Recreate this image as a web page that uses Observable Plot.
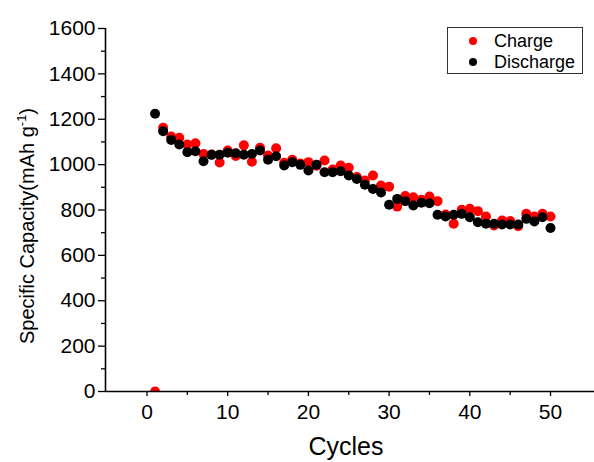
<!DOCTYPE html>
<html>
<head>
<meta charset="utf-8">
<script src="https://cdn.jsdelivr.net/npm/d3@7"></script>
<script src="https://cdn.jsdelivr.net/npm/@observablehq/plot@0.6"></script>
<style>
  html, body { margin: 0; padding: 0; background: #fff; }
  #chart svg { display: block; }
</style>
</head>
<body>
<div id="chart"></div>
<script>
const cycles = [1,2,3,4,5,6,7,8,9,10,11,12,13,14,15,16,17,18,19,20,21,22,23,24,25,26,27,28,29,30,31,32,33,34,35,36,37,38,39,40,41,42,43,44,45,46,47,48,49,50];
const charge = [0,1162,1124,1118,1089,1094,1047,1045,1009,1062,1038,1085,1013,1074,1040,1072,1008,1021,1005,1011,995,1018,978,996,986,945,930,952,908,903,815,862,856,845,859,839,780,739,801,805,795,771,732,754,751,728,783,771,783,771];
const discharge = [1224,1147,1109,1089,1055,1059,1015,1043,1044,1052,1050,1044,1047,1062,1022,1037,996,1011,999,974,1000,966,966,971,952,937,911,893,877,823,849,839,820,832,830,779,771,779,783,768,746,739,739,736,736,736,761,749,768,721];
const xTicks = [0,10,20,30,40,50];
const xMinor = [5,15,25,35,45];
const yTicks = [0,200,400,600,800,1000,1200,1400,1600];
const yMinor = [100,300,500,700,900,1100,1300,1500];
const seriesNames = ["Charge", "Discharge"];
const seriesColors = ["#ff0000", "#000000"];

const chargeData = cycles.map((c, i) => ({cycle: c, value: charge[i]}));
const dischargeData = cycles.map((c, i) => ({cycle: c, value: discharge[i]}));

const FONT = "'Liberation Sans', Arial, Helvetica, sans-serif";
const xDomain = [-5.143, 55.45];
const yDomain = [0, 1600];

const W = 594, H = 462, ML = 105, MR = 0, MT = 28, MB = 71;

const plot = Plot.plot({
  width: W,
  height: H,
  marginLeft: ML,
  marginRight: MR,
  marginTop: MT,
  marginBottom: MB,
  style: {fontFamily: FONT, fontSize: "21px", color: "#000", background: "#fff", overflow: "visible"},
  x: {domain: xDomain, label: null},
  y: {domain: yDomain, label: null},
  marks: [
    Plot.dot(chargeData, {x: "cycle", y: "value", r: 5, fill: seriesColors[0], stroke: "none", clip: true, className: "series-dots"}),
    Plot.dot(dischargeData, {x: "cycle", y: "value", r: 5, fill: seriesColors[1], stroke: "none", clip: true, className: "series-dots"}),
    Plot.axisY({ticks: yTicks, tickSize: 7, tickPadding: 3, tickFormat: d => String(d), strokeWidth: 1.3, fontSize: 21, label: null}),
    Plot.axisY({ticks: yMinor, tickSize: 4, tickFormat: () => "", strokeWidth: 1.3, label: null}),
    Plot.axisX({ticks: xTicks, tickSize: 5, tickPadding: 8, tickFormat: d => String(d), strokeWidth: 1.3, fontSize: 21, label: null}),
    Plot.axisX({ticks: xMinor, tickSize: 4, tickFormat: () => "", strokeWidth: 1.3, label: null}),
    Plot.ruleY([0], {stroke: "#000", strokeWidth: 1.6}),
    Plot.ruleX([xDomain[0]], {stroke: "#000", strokeWidth: 1.6})
  ]
});

const svg = d3.select(plot);

// clip every data dot to the plotting frame (the cycle-1 charge point sits on the x axis)
const NS = "http://www.w3.org/2000/svg";
const defs = document.createElementNS(NS, "defs");
const cp = document.createElementNS(NS, "clipPath");
cp.setAttribute("id", "frameClipDots");
cp.setAttribute("clipPathUnits", "userSpaceOnUse");
const cr = document.createElementNS(NS, "rect");
cr.setAttribute("x", ML); cr.setAttribute("y", MT);
cr.setAttribute("width", W - ML - MR); cr.setAttribute("height", H - MT - MB);
cp.appendChild(cr); defs.appendChild(cp);
plot.insertBefore(defs, plot.firstChild);
plot.querySelectorAll("circle").forEach(c => {
  c.setAttribute("clip-path", "url(#frameClipDots)");
});

// X axis title
svg.append("text")
  .attr("x", 346).attr("y", 455)
  .attr("text-anchor", "middle")
  .attr("font-family", FONT).attr("font-size", 25)
  .attr("fill", "#000")
  .text("Cycles");

// Y axis title with superscript
const yt = svg.append("text")
  .attr("transform", "translate(34,226) rotate(-90)")
  .attr("text-anchor", "middle")
  .attr("font-family", FONT).attr("font-size", 20)
  .attr("fill", "#000");
yt.append("tspan").text("Specific Capacity(mAh g");
yt.append("tspan").attr("font-size", 13).attr("dy", -8).text("-1");
yt.append("tspan").attr("dy", 8).text(")");

// Legend
const lg = svg.append("g").attr("font-family", FONT).attr("font-size", 18).attr("text-anchor", "start");
lg.append("rect").attr("x", 447.5).attr("y", 27.5).attr("width", 135).attr("height", 46)
  .attr("fill", "#fff").attr("stroke", "#333").attr("stroke-width", 1);
seriesNames.forEach((name, i) => {
  const cy = 41 + i * 21;
  lg.append("circle").attr("cx", 473).attr("cy", cy).attr("r", 4).attr("fill", seriesColors[i]);
  lg.append("text").attr("x", 494).attr("y", cy + 6).attr("text-anchor", "start").attr("fill", "#000").text(name);
});

document.getElementById("chart").appendChild(plot);
</script>
</body>
</html>
